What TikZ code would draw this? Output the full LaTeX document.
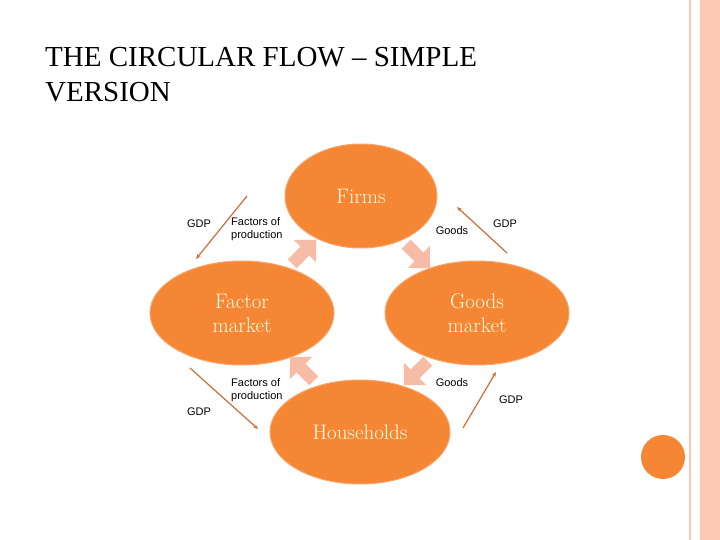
\documentclass[tikz,border=0pt]{standalone}
\usepackage{fontspec}
\setmainfont{Liberation Serif}
\newfontfamily\lbsans{Liberation Sans}
\newfontfamily\lmserif{Latin Modern Roman}
\usetikzlibrary{shapes.arrows,shapes.geometric,arrows.meta}
\definecolor{org}{HTML}{F58634}
\definecolor{orgedge}{HTML}{F8A46A}
\definecolor{pale}{HTML}{F6BCA5}
\definecolor{gdp}{HTML}{CC6E3C}
\definecolor{stripe}{HTML}{FDC9B4}
\begin{document}
\begin{tikzpicture}[x=1pt,y=-1pt,
  oval/.style={ellipse,fill=org,draw=orgedge,line width=1pt,text=white!90!yellow,font=\lmserif\fontsize{21}{24}\selectfont,align=center,inner sep=0pt},
  blk/.style={single arrow,fill=pale,draw=none,minimum height=34pt,minimum width=32pt,single arrow head extend=5pt,inner sep=3pt},
  gdparrow/.style={draw=gdp,line width=1.2pt,-{Stealth[length=5pt,width=4pt]}},
  small/.style={font=\lbsans\fontsize{11}{13}\selectfont,inner sep=0pt,align=left}]
\useasboundingbox (0,0) rectangle (720,540);
\fill[white] (0,0) rectangle (720,540);
\fill[stripe] (700,0) rectangle (720,540);
\draw[stripe,line width=1.5pt] (690,0) -- (690,540);
\fill[org] (663,457) circle (22);
\node[anchor=base west,font=\fontsize{29}{34}\selectfont,inner sep=0pt,align=left] (title) at (45,67) {THE CIRCULAR FLOW -- SIMPLE};
\node[anchor=base west,font=\fontsize{29}{34}\selectfont,inner sep=0pt] (title2) at (45,102) {VERSION};
\node[oval,minimum width=152pt,minimum height=104pt] (firms) at (361,196) {Firms};
\node[oval,minimum width=184pt,minimum height=104pt] (factor) at (242,313) {Factor\\market};
\node[oval,minimum width=184pt,minimum height=104pt] (goods) at (477,313) {Goods\\market};
\node[oval,minimum width=180pt,minimum height=104pt] (house) at (360,432) {Households};
\node[blk,rotate=45] (b1) at (302,254) {};
\node[blk,rotate=-45] (b2) at (416,254) {};
\node[blk,rotate=-135] (b3) at (418,371) {};
\node[blk,rotate=135] (b4) at (304,371) {};
\coordinate (g1s) at (247,196); \coordinate (g1e) at (196,259);
\coordinate (g2s) at (507,253); \coordinate (g2e) at (457,207);
\coordinate (g3s) at (190,368); \coordinate (g3e) at (258,429);
\coordinate (g4s) at (463,428); \coordinate (g4e) at (496,372);
\draw[gdparrow] (g1s) -- (g1e);
\draw[gdparrow] (g2s) -- (g2e);
\draw[gdparrow] (g3s) -- (g3e);
\draw[gdparrow] (g4s) -- (g4e);
\node[small] (l1) at (199,224) {GDP};
\node[small] (l2) at (505,224) {GDP};
\node[small] (l3) at (199,412) {GDP};
\node[small] (l4) at (511,400) {GDP};
\node[small,anchor=west] (f1) at (231,229) {Factors of\\production};
\node[small,anchor=west] (f2) at (231,390) {Factors of\\production};
\node[small] (go1) at (452,231) {Goods};
\node[small] (go2) at (452,383) {Goods};
\end{tikzpicture}
\end{document}
